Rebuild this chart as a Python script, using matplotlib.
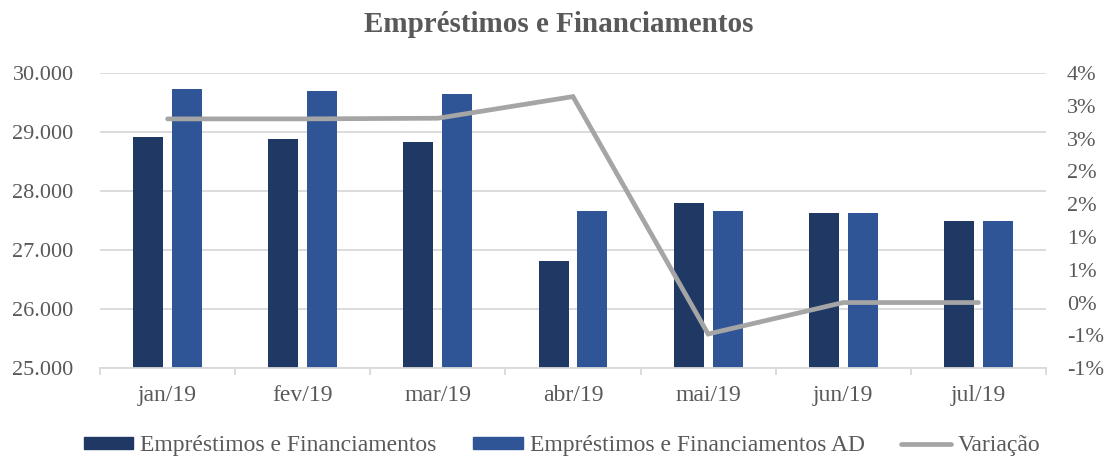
import matplotlib
matplotlib.use('Agg')
import matplotlib.pyplot as plt
from matplotlib.ticker import FuncFormatter, FixedLocator
from matplotlib.patches import Patch
from matplotlib.lines import Line2D
import numpy as np
import math

meses = ['jan/19', 'fev/19', 'mar/19', 'abr/19', 'mai/19', 'jun/19', 'jul/19']
emprestimos = [28913, 28879, 28834, 26823, 27792, 27622, 27492]
emprestimos_ad = [29722, 29689, 29649, 27661, 27656, 27622, 27492]
variacao = [2.80, 2.80, 2.81, 3.14, -0.48, 0.0, 0.0]  # em %

cor_escura = '#203864'
cor_clara = '#2F5597'
cor_linha = '#A5A5A5'
cor_grade = '#D9D9D9'
cor_texto = '#595959'

plt.rcParams['font.family'] = ['Liberation Serif', 'DejaVu Serif']


def milhar(v, pos):
	return '{:,.0f}'.format(v).replace(',', '.')


def pct(v, pos):
	# arredondamento como no Excel (metade para longe do zero)
	r = math.copysign(math.floor(abs(v) + 0.5 + 1e-9), v)
	return '{:.0f}%'.format(r) if r != 0 else '0%'


def main():
	fig = plt.figure(figsize=(11.11, 4.59), dpi=100)
	ax = fig.add_axes([0.09, 0.198, 0.8515, 0.643])
	x = np.arange(len(meses))
	w = 0.222
	d = 0.144
	ax.bar(x - d, emprestimos, w, color=cor_escura, zorder=2)
	ax.bar(x + d, emprestimos_ad, w, color=cor_clara, zorder=2)
	ax.set_ylim(25000, 30000)
	ax.set_xlim(-0.5, len(meses) - 0.5)
	ax.yaxis.set_major_locator(FixedLocator(np.arange(25000, 30001, 1000)))
	ax.yaxis.set_major_formatter(FuncFormatter(milhar))
	ax.grid(axis='y', color=cor_grade, lw=1.3, zorder=0)
	ax.set_axisbelow(True)
	for s in ['top', 'left', 'right']:
		ax.spines[s].set_visible(False)
	ax.spines['bottom'].set_color(cor_grade)
	ax.spines['bottom'].set_linewidth(1.3)
	ax.set_xticks(x)
	ax.set_xticklabels(meses)
	ax.set_xticks(np.arange(-0.5, len(meses), 1.0), minor=True)
	ax.tick_params(axis='x', which='major', length=0, pad=12, labelsize=17, labelcolor=cor_texto)
	ax.tick_params(axis='x', which='minor', length=5, width=1.3, color=cor_grade)
	ax.tick_params(axis='y', length=0, pad=19, labelsize=16, labelcolor=cor_texto)

	ax2 = ax.twinx()
	ax2.plot(x, variacao, color=cor_linha, lw=3.4, solid_capstyle='round', solid_joinstyle='miter', zorder=3)
	ax2.set_ylim(-1.0, 3.5)
	ax2.yaxis.set_major_locator(FixedLocator(np.arange(-1.0, 3.51, 0.5)))
	ax2.yaxis.set_major_formatter(FuncFormatter(pct))
	ax2.tick_params(axis='y', length=0, pad=15, labelsize=16, labelcolor=cor_texto)
	for s in ax2.spines.values():
		s.set_visible(False)

	fig.text(0.5027, 1 - 24 / 459, 'Empréstimos e Financiamentos', ha='center', va='center',
		fontsize=21, fontweight='bold', color=cor_texto)

	handles = [Patch(color=cor_escura), Patch(color=cor_clara),
		Line2D([0], [0], color=cor_linha, lw=3.4, solid_capstyle='round')]
	labels = ['Empréstimos e Financiamentos', 'Empréstimos e Financiamentos AD', 'Variação']
	fig.legend(handles, labels, loc='center', bbox_to_anchor=(0.506, 1 - 446 / 459), ncol=3,
		frameon=False, fontsize=17, labelcolor=cor_texto, handlelength=2.1, handleheight=0.45,
		handletextpad=0.3, columnspacing=1.55)

	fig.savefig('out.png', dpi=100)


if __name__ == '__main__':
	main()
